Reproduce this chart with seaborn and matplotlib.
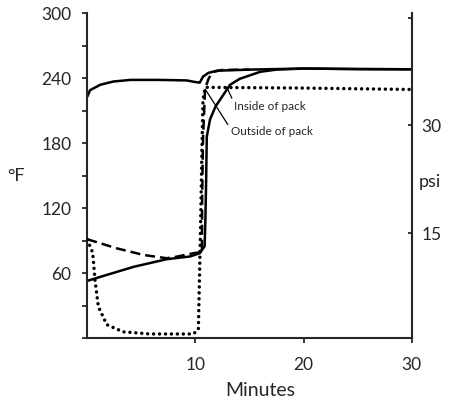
import matplotlib
matplotlib.use("Agg")
import matplotlib.pyplot as plt
import seaborn as sns

# Retort temperature (°F)
retort_min = [0, 0.25, 1.2, 2.4, 4.0, 6.7, 9.2, 10.0, 10.4, 10.7, 11.2, 12.0, 15.0, 20.0, 25.0, 30.0]
retort_f = [223, 229, 234, 237, 238.5, 238.5, 238, 236.5, 236, 241.5, 245, 247, 248, 249, 248.5, 248.3]

# Temperature at the inside of the pack (°F)
inside_min = [0, 1.8, 4.3, 7.35, 9.5, 10.4, 10.85, 10.92, 10.98, 11.05, 11.35, 11.86, 12.7, 13.2, 14.1, 16.0, 17.5, 20.0, 25.0, 30.0]
inside_f = [53, 58.5, 66, 73, 75.5, 78.5, 85, 109, 140, 186, 202, 214, 226.5, 234, 239.5, 246, 248, 249, 248.5, 248.3]

# Temperature at the outside of the pack (°F)
outside_min = [0, 2.7, 5.2, 7.35, 8.0, 9.96, 10.6, 10.62, 10.7, 10.85, 10.9, 11.25, 11.7, 12.5, 15.0]
outside_f = [91.4, 83.1, 76.9, 73.9, 74.8, 78.8, 79.5, 128, 183, 220, 231, 240.4, 246, 247.7, 248]

# Pressure (psi)
press_min = [0, 0.5, 0.71, 1.02, 1.8, 3.3, 5.8, 9.8, 10.27, 10.33, 10.43, 10.52, 10.6, 10.7, 10.9, 20.0, 30.0]
press_psi = [14.1, 12.3, 8.5, 4.8, 2.3, 1.3, 1.0, 1.0, 1.6, 5.7, 12.7, 19.6, 26.6, 33.5, 35.3, 35.2, 35.0]

temp_ticks = [0, 30, 60, 90, 120, 150, 180, 210, 240, 270, 300]
temp_labels = ["", "", "60", "", "120", "", "180", "", "240", "", "300"]
psi_ticks = [15, 30, 45]
psi_labels = ["15", "30", ""]
min_ticks = [10, 20, 30]

sns.set_style("ticks")
plt.rcParams["font.family"] = ["Lato", "DejaVu Sans"]

fig = plt.figure(figsize=(4.54, 4.01), dpi=100)
ax = fig.add_axes([0.1923, 0.1564, 0.7145, 0.8105])
ax2 = ax.twinx()

lw = 1.8
sns.lineplot(x=retort_min, y=retort_f, ax=ax, color="black", lw=lw,
             estimator=None, sort=False)
sns.lineplot(x=inside_min, y=inside_f, ax=ax, color="black", lw=lw,
             estimator=None, sort=False)
sns.lineplot(x=outside_min, y=outside_f, ax=ax, color="black", lw=lw,
             estimator=None, sort=False, linestyle=(0, (4, 2)))
sns.lineplot(x=press_min, y=press_psi, ax=ax2, color="black", lw=2.5,
             estimator=None, sort=False, linestyle=(0, (0.01, 1.7)),
             dash_capstyle="round")

ax.set_xlim(0, 30)
ax.set_ylim(0, 300)
ax2.set_ylim(0.4, 45.6)

ax.set_xticks(min_ticks)
ax.set_xticklabels([str(v) for v in min_ticks])
ax.set_yticks(temp_ticks)
ax.set_yticklabels(temp_labels)
ax2.set_yticks(psi_ticks)
ax2.set_yticklabels(psi_labels)

ax.tick_params(axis="y", direction="out", length=3.5, width=1.3, pad=8, labelsize=12.5)
ax.tick_params(axis="x", direction="out", length=3.5, width=1.3, pad=10, labelsize=12.5)
ax2.tick_params(axis="y", direction="in", length=3, width=1.3, pad=7, labelsize=12.5)

for s in ["top", "right"]:
    ax.spines[s].set_visible(False)
for s in ["top", "left", "bottom"]:
    ax2.spines[s].set_visible(False)
for s in ["left", "bottom"]:
    ax.spines[s].set_linewidth(1.5)
ax2.spines["right"].set_linewidth(1.5)

ax.set_xlabel("Minutes", fontsize=14, va="center")
ax.xaxis.set_label_coords(0.532, -0.162)
ax.set_ylabel("°F", fontsize=13, rotation=0, va="center", ha="center")
ax.yaxis.set_label_coords(-0.22, 0.50)
ax2.set_ylabel("psi", fontsize=13, rotation=0, va="center", ha="center")
ax2.yaxis.set_label_coords(1.056, 0.48)

ax.annotate("Inside of pack", xy=(12.9, 231.8), xytext=(13.6, 213.5),
            fontsize=8.5, va="center", ha="left",
            arrowprops=dict(arrowstyle="-", color="black", lw=0.9,
                            shrinkA=0, shrinkB=0, relpos=(0, 0.8)))
ax.annotate("Outside of pack", xy=(10.9, 230), xytext=(13.3, 190.5),
            fontsize=8.5, va="center", ha="left",
            arrowprops=dict(arrowstyle="-", color="black", lw=0.9,
                            shrinkA=0, shrinkB=0, relpos=(0, 0.7)))

fig.savefig("out.png", dpi=100)
